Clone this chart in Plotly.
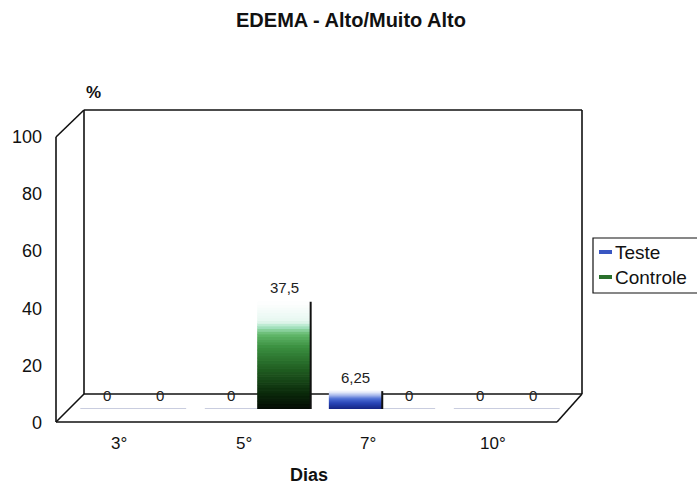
import plotly.graph_objects as go

# ---- data ----
categories = ["3°", "5°", "7°", "10°"]
teste = [0, 0, 6.25, 0]
controle = [0, 37.5, 0, 0]
series_names = ["Teste", "Controle"]
y_ticks = [0, 20, 40, 60, 80, 100]

# ---- canvas geometry (pixels) ----
W, H = 697, 484
L, R, T, B = 71, 128, 123, 75
PW, PH = W - L - R, H - T - B
DEPTH = 14  # half-depth offset of the pseudo-3D box


def px(x):
    return (x - L) / PW


def py(y):
    return (H - B - y) / PH


def lerp_color(stops, t):
    for (t0, c0), (t1, c1) in zip(stops[:-1], stops[1:]):
        if t0 <= t <= t1:
            f = (t - t0) / (t1 - t0) if t1 > t0 else 0
            a = [int(c0[i:i + 2], 16) for i in (1, 3, 5)]
            b = [int(c1[i:i + 2], 16) for i in (1, 3, 5)]
            return "rgb(%d,%d,%d)" % tuple(round(a[i] + (b[i] - a[i]) * f) for i in range(3))
    return stops[-1][1]


blue_stops = [(0, "#15237f"), (0.35, "#2a46b6"), (0.6, "#4f6fd4"),
              (0.8, "#a9b9ec"), (1, "#f3f5fc")]
green_stops = [(0, "#030a03"), (0.15, "#0b2a0b"), (0.38, "#215f22"),
               (0.58, "#3b8f40"), (0.7, "#62b86c"), (0.77, "#a8e4c4"),
               (0.82, "#e6f7f0"), (1, "#ffffff")]

fmt = lambda v: f"{v:g}".replace(".", ",")

bargap = 0.15
half = (1 - bargap) / 2

fig = go.Figure()
N = 40
annotations = []
for j, (name, vals, stops) in enumerate([(series_names[0], teste, blue_stops),
                                         (series_names[1], controle, green_stops)]):
    # vertical gradient built from stacked slices of each bar
    for k in range(N):
        col = lerp_color(stops, (k + 0.5) / N)
        fig.add_trace(go.Bar(
            x=categories, y=[v / N for v in vals], base=[v * k / N for v in vals],
            offsetgroup=name,
            marker=dict(color=col, line=dict(width=[1 if v > 0 else 0 for v in vals], color=col)),
            showlegend=False, hoverinfo="skip"))
    # full-height bar: empty bars show as a faint line on the floor
    fig.add_trace(go.Bar(
        x=categories, y=vals, offsetgroup=name, name=name,
        marker=dict(color="rgba(0,0,0,0)",
                    line=dict(width=1, color=["rgba(120,130,175,0.45)" if v == 0 else "rgba(0,0,0,0)"
                                              for v in vals])),
        showlegend=False))
    # value labels above each bar
    for i, v in enumerate(vals):
        annotations.append(dict(text=fmt(v), xref="x", yref="y", x=i + (j - 0.5) * half, y=v,
                                yshift=14, xanchor="center", yanchor="middle", showarrow=False,
                                font=dict(size=15, color="#222222")))

shapes = []
# dark right edge of each non-empty bar
for j, vals in enumerate([teste, controle]):
    for i, v in enumerate(vals):
        if v > 0:
            xe = i + j * half
            shapes.append(dict(type="line", xref="x", yref="y", x0=xe, x1=xe, y0=0, y1=v,
                               line=dict(color="#111111", width=2)))

# pseudo-3D walls and floor
frame = [((56, 137), (56, 422)), ((56, 137), (84, 110)), ((56, 422), (84, 394)),
         ((84, 110), (84, 394)), ((84, 110), (582, 110)), ((582, 110), (582, 394)),
         ((84, 394), (582, 394)), ((56, 422), (557, 422)), ((557, 422), (582, 394))]
for (x0, y0), (x1, y1) in frame:
    shapes.append(dict(type="line", xref="paper", yref="paper", layer="below",
                       x0=px(x0), y0=py(y0), x1=px(x1), y1=py(y1),
                       line=dict(color="#111111", width=1.6)))

for t in y_ticks:
    annotations.append(dict(text=str(t), xref="paper", yref="y", x=px(44), y=t,
                            yshift=-DEPTH, xanchor="right", yanchor="middle", showarrow=False,
                            font=dict(size=18, color="#111111")))
for c in categories:
    annotations.append(dict(text=c, xref="x", yref="paper", x=c, y=py(443),
                            xshift=-DEPTH, xanchor="center", yanchor="middle", showarrow=False,
                            font=dict(size=17, color="#111111")))
annotations.append(dict(text="<b>%</b>", xref="paper", yref="paper", x=px(93), y=py(92),
                        xanchor="center", yanchor="middle",
                        showarrow=False, font=dict(size=17, color="#111111")))
annotations.append(dict(text="<b>Dias</b>", xref="paper", yref="paper", x=px(309), y=py(475),
                        xanchor="center", yanchor="middle",
                        showarrow=False, font=dict(size=18, color="#111111")))

# legend box
shapes.append(dict(type="rect", xref="paper", yref="paper", x0=px(593), y0=py(238),
                   x1=px(702), y1=py(293), line=dict(color="#111111", width=1.2)))
for k, (name, stops) in enumerate([(series_names[0], blue_stops), (series_names[1], green_stops)]):
    yc = 252 + 25 * k
    shapes.append(dict(type="rect", xref="paper", yref="paper", x0=px(599), x1=px(612),
                       y0=py(yc + 2), y1=py(yc - 2), line=dict(width=0),
                       fillcolor=lerp_color(stops, 0.45)))
    annotations.append(dict(text=name, xref="paper", yref="paper", x=px(613), y=py(yc),
                            xanchor="left", yanchor="middle", showarrow=False,
                            font=dict(size=19, color="#111111")))

fig.update_layout(
    width=W, height=H, margin=dict(l=L, r=R, t=T, b=B),
    paper_bgcolor="white", plot_bgcolor="white",
    barmode="group", bargap=bargap, bargroupgap=0,
    font=dict(family="Liberation Sans, Arial, sans-serif", color="#111111"),
    title=dict(text="<b>EDEMA - Alto/Muito Alto</b>", x=351 / W, xanchor="center",
               y=1 - 20 / H, yanchor="middle", font=dict(size=20, color="#111111")),
    xaxis=dict(range=[-0.5, 3.5], showgrid=False, zeroline=False, showline=False,
               showticklabels=False, ticks=""),
    yaxis=dict(range=[0, 100], showgrid=False, zeroline=False, showline=False,
               showticklabels=False, ticks=""),
    shapes=shapes, annotations=annotations, showlegend=False,
)

fig.write_html("out.html")
